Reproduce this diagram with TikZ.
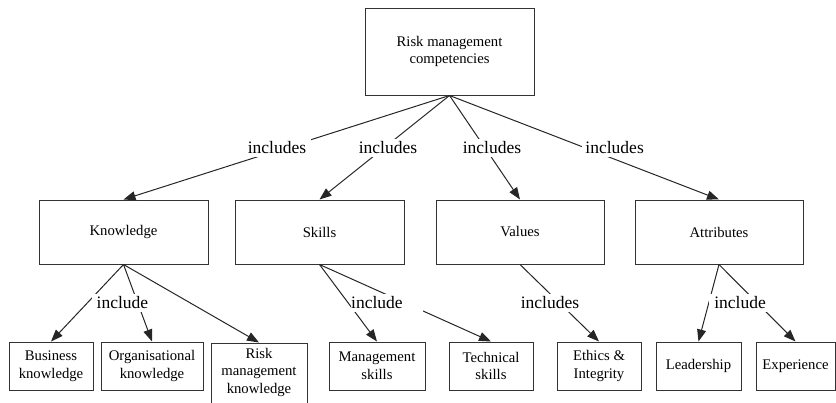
\documentclass[tikz,border=0pt]{standalone}
\usepackage{fontspec}
\setmainfont{Liberation Serif}
\usetikzlibrary{arrows.meta}
\begin{document}
\begin{tikzpicture}[x=1pt,y=-1pt,
  box/.style={draw=black!80, line width=1pt, inner sep=0pt, align=center,
    font=\fontsize{14.7}{17.5}\selectfont},
  rel/.style={draw=black!85, line width=1pt, -{Triangle[length=12pt,width=9pt]}},
  tag/.style={fill=white, inner xsep=5pt, inner ysep=3pt,
    font=\fontsize{17.5}{20}\selectfont}]
\useasboundingbox (0,0) rectangle (836,402);

% top level
\node[box, minimum width=169pt, minimum height=87pt] (top) at (449.5,51.5)
  {Risk management\\competencies};

% second level
\node[box, minimum width=169pt, minimum height=64pt] (know) at (123.5,232) {Knowledge};
\node[box, minimum width=169pt, minimum height=64pt] (skill) at (319.5,232) {Skills};
\node[box, minimum width=168pt, minimum height=64pt] (val) at (520,232) {Values};
\node[box, minimum width=168pt, minimum height=64pt] (attr) at (719,232) {Attributes};

% third level
\node[box, minimum width=84pt, minimum height=48pt] (bus) at (51,366) {Business\\knowledge};
\node[box, minimum width=102pt, minimum height=48pt] (org) at (152,366) {Organisational\\knowledge};
\node[box, minimum width=96pt, minimum height=67pt] (rmk) at (259,376.5) {};
\node[font=\fontsize{14.7}{17.5}\selectfont, align=center, inner sep=0pt] (rmktext) at (259,372)
  {Risk\\management\\knowledge};
\node[box, minimum width=96pt, minimum height=48pt] (mgs) at (377,366) {Management\\skills};
\node[box, minimum width=84pt, minimum height=48pt] (tec) at (491,366) {Technical\\skills};
\node[box, minimum width=84pt, minimum height=48pt] (eth) at (599,366) {Ethics \&\\Integrity};
\node[box, minimum width=85pt, minimum height=48pt] (lead) at (698.5,366) {Leadership};
\node[box, minimum width=79pt, minimum height=48pt] (exp) at (795.5,366) {Experience};

% connectors
\draw[rel] (top.south) -- (know.north);
\draw[rel] (top.south) -- (skill.north);
\draw[rel] (top.south) -- (val.north);
\draw[rel] (top.south) -- (attr.north);

\draw[rel] (know.south) -- (bus.north);
\draw[rel] (know.south) -- (org.north);
\draw[rel] (know.south) -- (rmk.north);
\draw[rel] (skill.south) -- (mgs.north);
\draw[rel] (skill.south) -- (tec.north);
\draw[rel] (val.south) -- (eth.north);
\draw[rel] (attr.south) -- (lead.north);
\draw[rel] (attr.south) -- (exp.north);

% connector labels
\node[tag] (l1) at (277,148) {includes};
\node[tag] (l2) at (388,148) {includes};
\node[tag] (l3) at (492,148) {includes};
\node[tag, anchor=east, text width=62pt, align=right, inner xsep=0pt] (l4) at (644,148) {includes};
\node[tag] (l5) at (122.5,303) {include};
\node[tag, anchor=west, text width=72pt, align=left, inner xsep=0pt] (l6) at (351,303) {include};
\node[tag] (l7) at (550,303) {includes};
\node[tag] (l8) at (740,303) {include};
\end{tikzpicture}
\end{document}
